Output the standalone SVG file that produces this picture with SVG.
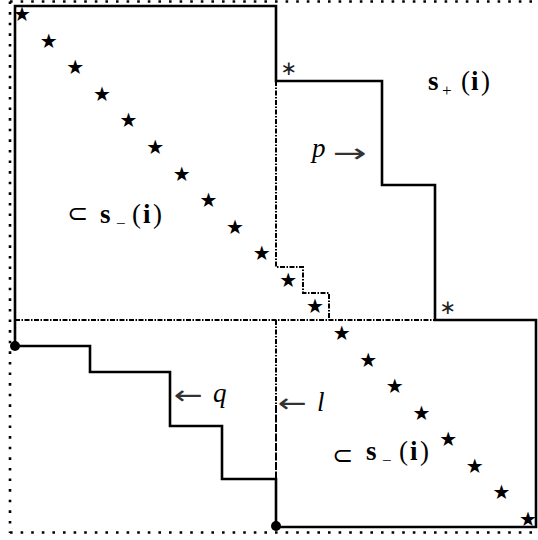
<svg xmlns="http://www.w3.org/2000/svg" width="538" height="540" viewBox="0 0 538 540">
<style>
.dot{fill:none;stroke:#000;stroke-width:2.6;stroke-dasharray:2.6,8}
.solid{fill:none;stroke:#000;stroke-width:2.6;stroke-linejoin:miter}
.dd{fill:none;stroke:#000;stroke-width:2;stroke-dasharray:5,1.5,1.5,1.5}
.dash{fill:none;stroke:#000;stroke-width:2;stroke-dasharray:8,1.5}
.star{font-family:"DejaVu Sans",sans-serif;font-size:20px;text-anchor:middle;dominant-baseline:central}
.ast{font-family:"DejaVu Sans",sans-serif;font-size:20px;text-anchor:middle;dominant-baseline:central;fill:#222}
.lbl{font-family:"Liberation Serif","DejaVu Serif",serif;font-size:27px}
.b{font-weight:bold}
.it{font-style:italic}
.sub{font-size:17px}
.arr{font-family:"DejaVu Sans",sans-serif;font-size:26px;fill:#333}
.sym{font-family:"DejaVu Sans",sans-serif;font-size:26px}
</style>
<g id="frame">
<path class="dot" d="M10,1.5 H538 M10,1.5 V533 M10,532.5 H538"/>
</g>
<g id="connectors">
<path class="solid" d="M15,346 V6 H276 V81 H382 V185 H435 V320 H536 V527 H276 V479 H222 V426 H170 V372 H90 V346 Z"/>
<path class="dd" d="M15,320 H435"/>
<path class="dd" d="M276,81 V267 H303 V293 H329 V320"/>
<path class="dd" d="M276,320 V405"/>
<path class="dash" d="M276,405 V479"/>
<circle cx="15" cy="346" r="5" fill="#000"/>
<circle cx="276" cy="526" r="5" fill="#000"/>
</g>
<g id="stars">
<text class="star" x="22" y="14">★</text>
<text class="star" x="48.6" y="40.6">★</text>
<text class="star" x="75.3" y="67.2">★</text>
<text class="star" x="101.9" y="93.7">★</text>
<text class="star" x="128.5" y="120.3">★</text>
<text class="star" x="155.2" y="146.9">★</text>
<text class="star" x="181.8" y="173.5">★</text>
<text class="star" x="208.4" y="200.1">★</text>
<text class="star" x="235" y="226.6">★</text>
<text class="star" x="261.7" y="253.2">★</text>
<text class="star" x="288.3" y="279.8">★</text>
<text class="star" x="314.9" y="306.4">★</text>
<text class="star" x="341.6" y="333">★</text>
<text class="star" x="368.2" y="359.5">★</text>
<text class="star" x="394.8" y="386.1">★</text>
<text class="star" x="421.5" y="412.7">★</text>
<text class="star" x="448.1" y="439.3">★</text>
<text class="star" x="474.7" y="465.9">★</text>
<text class="star" x="501.4" y="492.4">★</text>
<text class="star" x="528" y="519">★</text>
</g>
<g id="asterisks">
<text class="ast" x="289" y="68">∗</text>
<text class="ast" x="448" y="307">∗</text>
</g>
<g id="labels">
<text class="lbl" y="90"><tspan class="b" x="428">s</tspan><tspan class="sub" x="442" y="96">+</tspan><tspan x="461" y="90">(</tspan><tspan class="b" x="471">i</tspan><tspan x="481">)</tspan></text>
<text class="lbl" y="157"><tspan class="it" x="312">p</tspan><tspan class="arr" x="333" y="162" textLength="34" lengthAdjust="spacingAndGlyphs">→</tspan></text>
<text class="lbl" y="223"><tspan class="sym" x="67" y="222" textLength="21" lengthAdjust="spacingAndGlyphs">⊂</tspan><tspan class="b" x="100" y="223">s</tspan><tspan class="sub" x="116" y="229">−</tspan><tspan x="132" y="223">(</tspan><tspan class="b" x="143">i</tspan><tspan x="153">)</tspan></text>
<text class="lbl" y="402"><tspan class="arr" x="174" y="404" textLength="29" lengthAdjust="spacingAndGlyphs">←</tspan><tspan class="it" x="213" y="402">q</tspan></text>
<text class="lbl" y="411"><tspan class="arr" x="278" y="412" textLength="29" lengthAdjust="spacingAndGlyphs">←</tspan><tspan class="it" x="317" y="411">l</tspan></text>
<text class="lbl" y="460"><tspan class="sym" x="332" y="464" textLength="21" lengthAdjust="spacingAndGlyphs">⊂</tspan><tspan class="b" x="366" y="460">s</tspan><tspan class="sub" x="382" y="466">−</tspan><tspan x="399" y="460">(</tspan><tspan class="b" x="410">i</tspan><tspan x="420">)</tspan></text>
</g>
</svg>
